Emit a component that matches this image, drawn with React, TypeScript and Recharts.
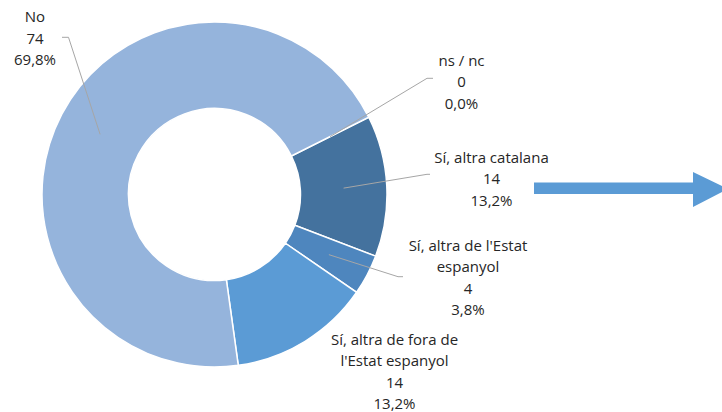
import React from 'react';
import { PieChart, Pie, Cell } from 'recharts';

// survey answers, drawn clockwise starting at the ns/nc boundary
const categories = ['ns / nc', 'Sí, altra catalana', "Sí, altra de l'Estat espanyol", "Sí, altra de fora de l'Estat espanyol", 'No'];
const labelLines = [['ns / nc'], ['Sí, altra catalana'], ["Sí, altra de l'Estat", 'espanyol'], ['Sí, altra de fora de', "l'Estat espanyol"], ['No']];
const counts = [0, 14, 4, 14, 74];
const colors = ['#7F7F7F', '#44729E', '#4E86BE', '#5B9BD5', '#95B4DC'];

const CX = 214.5;
const CY = 194.5;
const INNER = 86;
const OUTER = 172.5;
const START = 26.6;
const RAD = Math.PI / 180;
const LINE_H = 21.5;

// label placement relative to the pie centre: text centre x, first baseline y, leader points
const labelLayout: { dx: number; dy: number; leader?: [number, number][] }[] = [
  { dx: 247, dy: -129, leader: [[218.5, -116.2], [212.5, -116.2]] },
  { dx: 277, dy: -32, leader: [[215.5, -20.2], [212.5, -20.2]] },
  { dx: 253.5, dy: 56, leader: [[188.5, 82.2], [183.5, 82.2]] },
  { dx: 180, dy: 150 },
  { dx: -179.5, dy: -172.5, leader: [[-152.5, -157.2], [-146, -157.2]] },
];

const data = categories.map((name, i) => ({ name, value: counts[i] }));
const total = counts.reduce((a, b) => a + b, 0);

const renderLabel = (props: any) => {
  const { cx, cy, midAngle, innerRadius, outerRadius, index, value } = props;
  const lay = labelLayout[index];
  if (!lay) return null;
  const r = (innerRadius + outerRadius) / 2;
  const ax = cx + r * Math.cos(-midAngle * RAD);
  const ay = cy + r * Math.sin(-midAngle * RAD);
  const pct = ((value / total) * 100).toFixed(1).replace('.', ',') + '%';
  const rows = [...labelLines[index], String(value), pct];
  const pts = lay.leader ? [...lay.leader.map(([x, y]) => `${cx + x},${cy + y}`), `${ax},${ay}`] : null;
  return (
    <g key={`lbl-${index}`}>
      {pts && <polyline points={pts.join(' ')} fill="none" stroke="#A6A6A6" strokeWidth={1} />}
      <text x={cx + lay.dx} y={cy + lay.dy} textAnchor="middle" fill="#262626" fontSize={15} fontFamily="'Open Sans', sans-serif">
        {rows.map((t, k) => (
          <tspan key={k} x={cx + lay.dx} dy={k === 0 ? 0 : LINE_H}>{t}</tspan>
        ))}
      </text>
    </g>
  );
};

export default function App() {
  return (
    <div style={{ position: 'absolute', left: 0, top: 0, width: 722, height: 412, background: '#fff' }}>
      <PieChart width={722} height={412} margin={{ top: 0, right: 0, bottom: 0, left: 0 }}>
        <Pie
          data={data}
          dataKey="value"
          nameKey="name"
          cx={CX}
          cy={CY}
          innerRadius={INNER}
          outerRadius={OUTER}
          startAngle={START}
          endAngle={START - 360}
          stroke="#fff"
          strokeWidth={1.5}
          label={renderLabel}
          labelLine={false}
          isAnimationActive={false}
        >
          {data.map((d, i) => (
            <Cell key={d.name} fill={colors[i]} />
          ))}
        </Pie>
      </PieChart>
      <svg width={722} height={412} style={{ position: 'absolute', left: 0, top: 0, pointerEvents: 'none' }}>
        <polygon points="534,182.5 693,182.5 693,172 728,189 693,207 693,194 534,194" fill="#5B9BD5" />
      </svg>
    </div>
  );
}
